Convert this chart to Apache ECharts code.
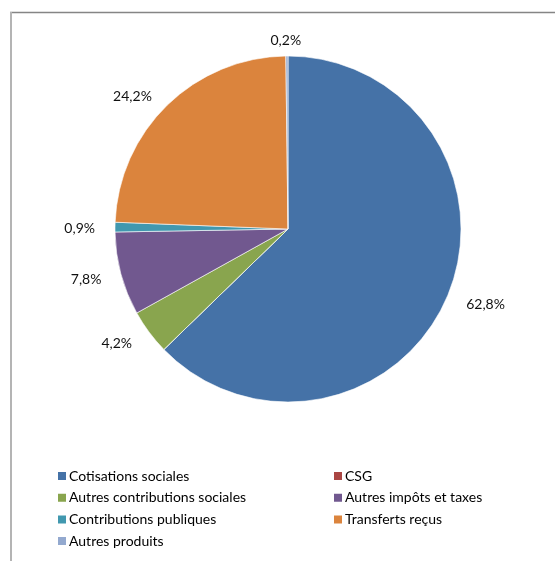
<!DOCTYPE html>
<html>
<head>
<meta charset="utf-8">
<script src="https://cdn.jsdelivr.net/npm/echarts@6/dist/echarts.min.js"></script>
<style>
  html, body { margin: 0; padding: 0; background: #fff; }
  #chart { width: 555px; height: 561px; }
</style>
</head>
<body>
<div id="chart"></div>
<script>
// Répartition des ressources (en % du total)
const categories = [
  'Cotisations sociales',
  'CSG',
  'Autres contributions sociales',
  'Autres impôts et taxes',
  'Contributions publiques',
  'Transferts reçus',
  'Autres produits'
];
const shares = [62.8, 0, 4.2, 7.8, 0.9, 24.2, 0.2];
const colors = ['#4572A7', '#AA4643', '#89A54E', '#71588F', '#4198AF', '#DB843D', '#93A9CF'];

// legend columns
const legendLeft = ['Cotisations sociales', 'Autres contributions sociales', 'Contributions publiques', 'Autres produits'];
const legendRight = ['CSG', 'Autres impôts et taxes', 'Transferts reçus'];

const fontFamily = 'Lato, "Open Sans", sans-serif';

const pieData = categories.map((name, i) => ({
  name: name,
  value: shares[i],
  label: { show: shares[i] > 0 }
}));

const legendCommon = {
  orient: 'vertical',
  icon: 'rect',
  padding: 0,
  itemWidth: 10,
  itemHeight: 10,
  itemGap: 5.7,
  selectedMode: false,
  textStyle: { fontFamily: fontFamily, fontSize: 14, color: '#000', lineHeight: 16, padding: [0, 0, 0, -3] }
};

const chart = echarts.init(document.getElementById('chart'), null, { renderer: 'canvas' });
chart.setOption({
  animation: false,
  color: colors,
  graphic: [
    { type: 'line', shape: { x1: 10, y1: 12.5, x2: 555, y2: 12.5 }, style: { stroke: '#858585', lineWidth: 1.5 } },
    { type: 'line', shape: { x1: 11, y1: 12, x2: 11, y2: 561 }, style: { stroke: '#b4b4b4', lineWidth: 2 } }
  ],
  legend: [
    Object.assign({ left: 56, top: 468, data: legendLeft }, legendCommon),
    Object.assign({ left: 332, top: 468, data: legendRight }, legendCommon)
  ],
  series: [{
    type: 'pie',
    center: [288, 229],
    radius: 173,
    startAngle: 90,
    clockwise: true,
    avoidLabelOverlap: false,
    data: pieData,
    itemStyle: { borderColor: '#ffffff', borderWidth: 0.6 },
    label: {
      position: 'outside',
      fontFamily: fontFamily,
      fontSize: 14,
      color: '#111',
      distanceToLabelLine: 3,
      formatter: p => p.value.toFixed(1).replace('.', ',') + '%'
    },
    labelLine: { show: false, length: 15, length2: 2 },
    labelLayout: function (p) {
      // centre the label of the thin slice sitting at the top of the pie
      if (p.dataIndex === 6) {
        return { dx: p.labelRect.width / 2 + 4, dy: -1 };
      }
      return { dy: 2 };
    },
    emphasis: { disabled: true }
  }]
});
</script>
</body>
</html>
